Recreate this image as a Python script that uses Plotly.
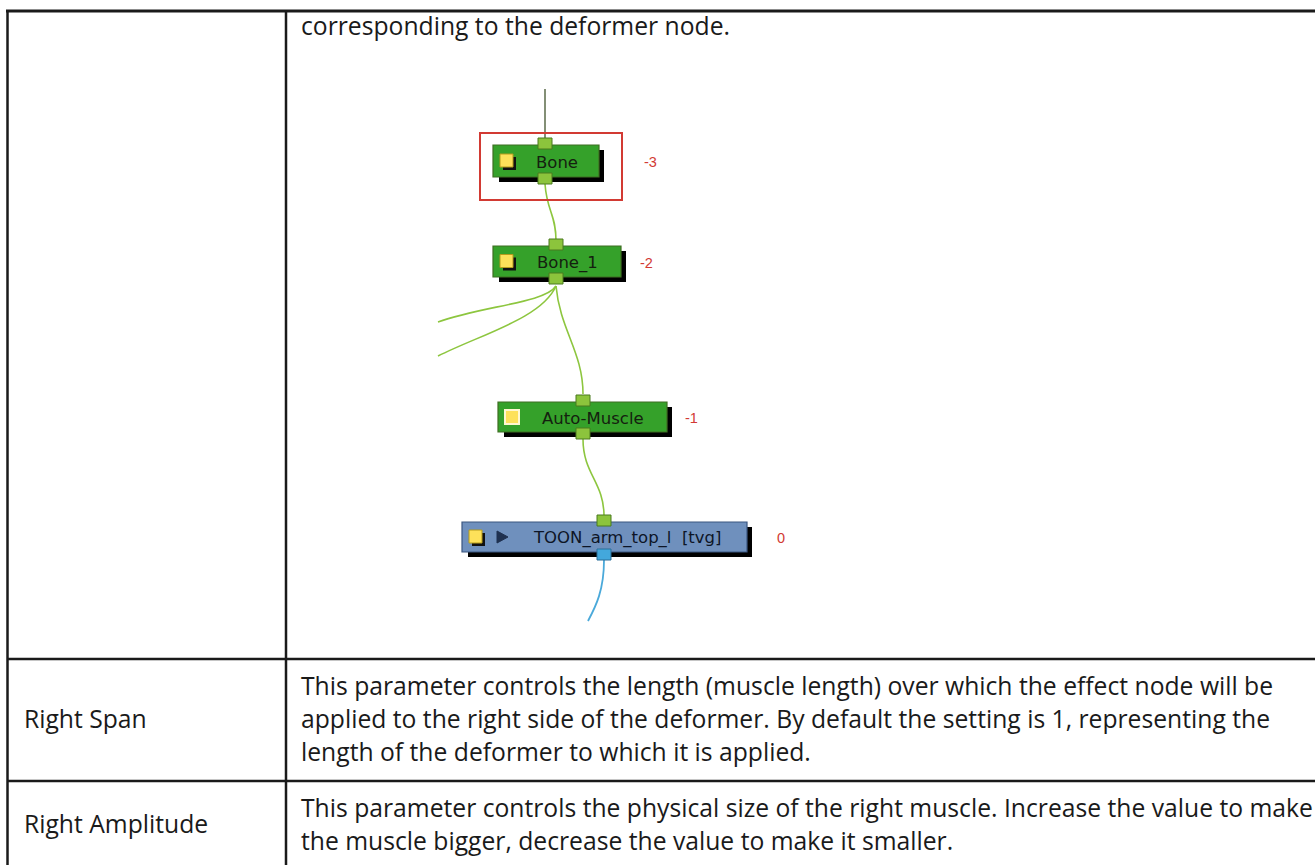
import plotly.graph_objects as go

# ---------------- data ----------------
intro_text = ["corresponding to the deformer node."]
node_names = ["Bone", "Bone_1", "Auto-Muscle", "TOON_arm_top_l\u00a0\u00a0[tvg]"]
node_depths = [-3, -2, -1, 0]
node_kinds = ["deformer", "deformer", "effect", "drawing"]
param_names = ["Right Span", "Right Amplitude"]
param_desc = [
    ["This parameter controls the length (muscle length) over which the effect node will be",
     "applied to the right side of the deformer. By default the setting is 1, representing the",
     "length of the deformer to which it is applied."],
    ["This parameter controls the physical size of the right muscle. Increase the value to make",
     "the muscle bigger, decrease the value to make it smaller."],
]

# ---------------- layout geometry ----------------
W, H = 1315, 865
TABLE_L, TABLE_T, COL_X = 7.5, 11, 286
ROW_Y = [659, 781]
LINE_H = 33.3
BODY_FONT = "Open Sans"
BODY_SIZE = 24.7

node_boxes = [(493, 145, 599, 177), (493, 246, 621, 277), (498, 402, 667, 432), (462, 522, 747, 552)]
label_cx = [557, 567, 593, 627]
port_x = [545, 556, 583, 604]
depth_x = [650, 646, 691, 781]

GREEN = "#35a12a"
GREEN_EDGE = "#3f6e22"
BLUE = "#6f90bd"
BLUE_EDGE = "#3b5680"
PORT_G = "#8cc43c"
PORT_G_EDGE = "#4b7a1e"
PORT_B = "#43a8dc"
PORT_B_EDGE = "#2a6f99"
LINK_G = "#8dc63f"
LINK_B = "#4aa9da"
RED = "#d23a33"

shapes = []
annotations = []

def line(x0, y0, x1, y1, w=2.5, c="#1a1a1a"):
    shapes.append(dict(type="line", xref="x", yref="y", x0=x0, y0=y0, x1=x1, y1=y1,
                       line=dict(color=c, width=w), layer="above"))

def rect(x0, y0, x1, y1, fill, edge=None, w=1, layer="above"):
    shapes.append(dict(type="rect", xref="x", yref="y", x0=x0, y0=y0, x1=x1, y1=y1,
                       fillcolor=fill, line=dict(color=edge or fill, width=w if edge else 0),
                       layer=layer))

def path(d, c, w=1.6, fill=None):
    s = dict(type="path", xref="x", yref="y", path=d,
             line=dict(color=c, width=w), layer="above")
    if fill:
        s["fillcolor"] = fill
    shapes.append(s)

def text(x, y, s, size, color="#1a1a1a", family=BODY_FONT, xanchor="left"):
    annotations.append(dict(x=x, y=y, xref="x", yref="y", text=s, showarrow=False,
                            xanchor=xanchor, yanchor="middle",
                            font=dict(family=family, size=size, color=color)))

# ---------------- table ----------------
line(TABLE_L - 1.5, TABLE_T, W + 5, TABLE_T, w=3)
line(TABLE_L, TABLE_T, TABLE_L, H + 5, w=2.5)
line(COL_X, TABLE_T, COL_X, H + 5, w=2.5)
for y in ROW_Y:
    line(TABLE_L, y, W + 5, y, w=2.5)

TEXT_X = COL_X + 13
text(TEXT_X, 25, intro_text[0], BODY_SIZE)

row_first = [685, 807]
for name, desc, first in zip(param_names, param_desc, row_first):
    for i, s in enumerate(desc):
        text(TEXT_X, first + i * LINE_H, s, BODY_SIZE)
    mid = first + (len(desc) - 1) * LINE_H / 2
    text(TABLE_L + 14, mid, name, BODY_SIZE)

# ---------------- node graph ----------------
line(port_x[0], 89, port_x[0], 140, w=1.5, c="#5a6a48")
path(f"M {port_x[0]},184 C {port_x[0]+2},212 {port_x[1]},214 {port_x[1]},241", LINK_G)
path(f"M {port_x[1]},286 C 545,303 482,306 438,322", LINK_G)
path(f"M {port_x[1]},286 C 542,318 482,334 438,356", LINK_G)
path(f"M {port_x[1]},286 C 560,330 {port_x[2]},352 {port_x[2]},394", LINK_G)
path(f"M {port_x[2]},439 C {port_x[2]},474 {port_x[3]},482 {port_x[3]},516", LINK_G)
path(f"M {port_x[3]},560 C {port_x[3]},590 596,606 588,621", LINK_B, w=1.8)

shapes.append(dict(type="rect", xref="x", yref="y", x0=480, y0=133, x1=622, y1=200,
                   line=dict(color=RED, width=2), fillcolor="rgba(0,0,0,0)", layer="above"))

for i, (name, depth, kind, (x0, y0, x1, y1)) in enumerate(zip(node_names, node_depths, node_kinds, node_boxes)):
    fill, edge = (BLUE, BLUE_EDGE) if kind == "drawing" else (GREEN, GREEN_EDGE)
    rect(x0 + 6, y0 + 5, x1 + 5, y1 + 5, "#000000")
    rect(x0, y0, x1, y1, fill, edge, 1.2)
    ix = x0 + 7
    iy = (y0 + y1) / 2 - 7
    if kind == "effect":
        rect(ix - 1, iy - 1, ix + 15, iy + 15, "#fff7d0")
        rect(ix + 1, iy + 1, ix + 13, iy + 13, "#fde15a")
    else:
        rect(ix + 3, iy + 3, ix + 16, iy + 16, "#111111")
        rect(ix, iy, ix + 13, iy + 13, "#fde15a", "#b59b1c", 1)
    if kind == "drawing":
        cy = (y0 + y1) / 2
        path(f"M {x0+35},{cy-6} L {x0+46},{cy} L {x0+35},{cy+6} Z", "#1f3150", w=1, fill="#1f3150")
    px = port_x[i]
    rect(px - 7, y0 - 7, px + 7, y0 + 4, PORT_G, PORT_G_EDGE, 1)
    if kind == "drawing":
        rect(px - 7, y1 - 3, px + 7, y1 + 8, PORT_B, PORT_B_EDGE, 1)
    else:
        rect(px - 7, y1 - 4, px + 7, y1 + 7, PORT_G, PORT_G_EDGE, 1)
    text(label_cx[i], (y0 + y1) / 2 + 1, name, 16.5, color="#14200f" if kind != "drawing" else "#0d1526",
         family="DejaVu Sans", xanchor="center")
    text(depth_x[i], (y0 + y1) / 2 + 1, str(depth), 14.5, color=RED, family="Liberation Sans",
         xanchor="center")

fig = go.Figure()
fig.add_trace(go.Scatter(x=[0, W], y=[0, H], mode="markers", marker=dict(opacity=0),
                         hoverinfo="skip", showlegend=False))
fig.update_layout(
    width=W, height=H,
    margin=dict(l=0, r=0, t=0, b=0),
    paper_bgcolor="white", plot_bgcolor="white",
    xaxis=dict(range=[0, W], visible=False, fixedrange=True),
    yaxis=dict(range=[H, 0], visible=False, fixedrange=True),
    shapes=shapes, annotations=annotations,
    showlegend=False,
)
fig.write_html("out.html", config={"displayModeBar": False},
               post_script="document.body.style.margin='0';document.body.style.overflow='hidden';")
